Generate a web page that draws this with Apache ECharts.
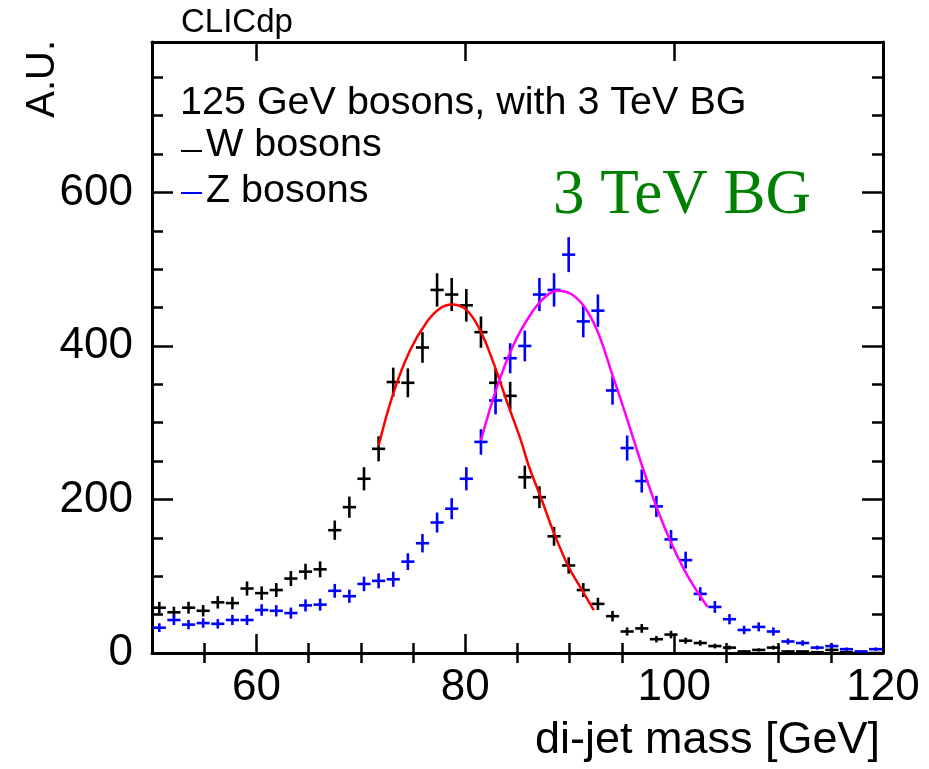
<!DOCTYPE html>
<html>
<head>
<meta charset="utf-8">
<script src="https://cdn.jsdelivr.net/npm/echarts@6/dist/echarts.min.js"></script>
<style>
html,body{margin:0;padding:0;background:#fff;}
#chart{width:929px;height:769px;}
</style>
</head>
<body>
<div id="chart"></div>
<script>
// ---- data ----
const binCenters = [50.7,52.1,53.5,54.9,56.3,57.7,59.1,60.5,61.9,63.3,64.7,66.1,67.5,68.9,70.3,71.7,73.1,74.5,75.9,77.3,78.7,80.1,81.5,82.9,84.3,85.7,87.1,88.5,89.9,91.3,92.7,94.1,95.5,96.9,98.3,99.7,101.1,102.5,103.9,105.3,106.7,108.1,109.5,110.9,112.3,113.7,115.1,116.5,117.9,119.3];
const wCounts = [59,53,59,55,66,65,84,78,82,97,106,109,160,190,227,266,353,352,398,473,467,453,418,352,335,229,203,152,114,82,64,48,28,32,18,24,16,13,9,7,2,4,7,2,2,1,4,1,0,0];
const wErrors = [7.7,7.3,7.7,7.4,8.1,8.1,9.2,8.8,9.1,9.8,10.3,10.4,12.6,13.8,15.1,16.3,18.8,18.8,19.9,21.7,21.6,21.3,20.4,18.8,18.3,15.1,14.2,12.3,10.7,9.1,8.0,6.9,5.3,5.7,4.2,4.9,4.0,3.6,3.0,2.6,1.4,2.0,2.6,1.4,1.4,1.0,2.0,1.0,0,0];
const zCounts = [33,43,37,39,38,43,43,56,55,52,62,63,81,74,90,94,96,119,143,170,188,227,275,329,384,400,467,473,519,432,446,342,267,224,191,148,121,77,60,44,30,34,28,15,13,7,9,5,2,5];
const zErrors = [5.7,6.6,6.1,6.2,6.2,6.6,6.6,7.5,7.4,7.2,7.9,7.9,9.0,8.6,9.5,9.7,9.8,10.9,12.0,13.0,13.7,15.1,16.6,18.1,19.6,20.0,21.6,21.7,22.8,20.8,21.1,18.5,16.3,15.0,13.8,12.2,11.0,8.8,7.7,6.6,5.5,5.8,5.3,3.9,3.6,2.6,3.0,2.2,1.4,2.2];
const wFitX = [71.7,73.1,74.7,76.3,77.6,78.7,80.1,81.4,82.7,84.0,85.3,86.1,87.2,88.5,89.9,91.0,92.3];
const wFitY = [270,338,394,431,449,454,447,421,378,327,278,243,204,156,112,86,56];
const zFitX = [81.5,83.0,84.6,86.2,87.5,88.8,90.1,91.4,92.7,94.0,95.4,96.9,98.4,99.8,101.3,103.2];
const zFitY = [277,345,401,440,462,472,468,451,418,366,309,245,187,141,100,60];
const xTickLabels = [60,80,100,120];
const xMinorTicks = [55,65,70,75,85,90,95,105,110,115];
const yTickLabels = [0,200,400,600];
const yMinorTicks = [50,100,150,250,300,350,450,500,550,650,700,750];
const legendTitle = '125 GeV bosons, with 3 TeV BG';
const seriesNames = ['W bosons','Z bosons'];

// ---- style ----
const FONT = '"Liberation Sans", Arial, Helvetica, sans-serif';
const HALF_BIN = 0.63;
const CROSS_W = 2.6;

const wData = binCenters.map((x,i)=>[x,wCounts[i],wErrors[i]]);
const zData = binCenters.map((x,i)=>[x,zCounts[i],zErrors[i]]);
const wFit = wFitX.map((x,i)=>[x,wFitY[i]]);
const zFit = zFitX.map((x,i)=>[x,zFitY[i]]);

function crossRenderer(color){
  return function(params, api){
    const x = api.value(0), y = api.value(1), e = api.value(2);
    const top = api.coord([x, y + e]);
    const bot = api.coord([x, Math.max(y - e, 0)]);
    const l = api.coord([x - HALF_BIN, y]);
    const r = api.coord([x + HALF_BIN, y]);
    const children = [
      {type:'line', shape:{x1:l[0],y1:l[1],x2:r[0],y2:r[1]}, style:{stroke:color,lineWidth:CROSS_W}}
    ];
    if (e > 0) children.push({type:'line', shape:{x1:top[0],y1:top[1],x2:bot[0],y2:bot[1]}, style:{stroke:color,lineWidth:CROSS_W}});
    return {type:'group', children};
  };
}

const XMIN = 50, XMAX = 120, YMIN = 0, YMAX = 796;
function xAx(opts){
  return Object.assign({type:'value', min:XMIN, max:XMAX, gridIndex:0,
    splitLine:{show:false}, axisLine:{show:false}, axisLabel:{show:false},
    axisTick:{show:false}}, opts);
}
function yAx(opts){
  return Object.assign({type:'value', min:YMIN, max:YMAX, gridIndex:0,
    splitLine:{show:false}, axisLine:{show:false}, axisLabel:{show:false},
    axisTick:{show:false}}, opts);
}

const chart = echarts.init(document.getElementById('chart'), null, {renderer:'canvas'});
chart.setOption({
  animation:false,
  backgroundColor:'#fff',
  grid:{left:152, right:46, top:42, bottom:116, containLabel:false, outerBoundsMode:'none'},
  xAxis:[
    xAx({position:'bottom',
      axisLine:{show:true, onZero:false, lineStyle:{color:'#000', width:3}},
      axisTick:{show:true, inside:true, length:19, lineStyle:{color:'#000', width:2.5}, customValues:xTickLabels},
      axisLabel:{show:true, customValues:xTickLabels, color:'#000', fontSize:44, fontFamily:FONT, margin:13}}),
    xAx({position:'bottom',
      axisTick:{show:true, inside:true, length:10, lineStyle:{color:'#000', width:2.5}, customValues:xMinorTicks}}),
    xAx({position:'top',
      axisLine:{show:true, onZero:false, lineStyle:{color:'#000', width:3}},
      axisTick:{show:true, inside:true, length:19, lineStyle:{color:'#000', width:2.5}, customValues:xTickLabels}}),
    xAx({position:'top',
      axisTick:{show:true, inside:true, length:10, lineStyle:{color:'#000', width:2.5}, customValues:xMinorTicks}})
  ],
  yAxis:[
    yAx({position:'left',
      axisLine:{show:true, onZero:false, lineStyle:{color:'#000', width:3}},
      axisTick:{show:true, inside:true, length:21, lineStyle:{color:'#000', width:2.5}, customValues:yTickLabels},
      axisLabel:{show:true, customValues:yTickLabels, color:'#000', fontSize:44, fontFamily:FONT, margin:19}}),
    yAx({position:'left',
      axisTick:{show:true, inside:true, length:11, lineStyle:{color:'#000', width:2.5}, customValues:yMinorTicks}}),
    yAx({position:'right',
      axisLine:{show:true, onZero:false, lineStyle:{color:'#000', width:3}},
      axisTick:{show:true, inside:true, length:21, lineStyle:{color:'#000', width:2.5}, customValues:yTickLabels}}),
    yAx({position:'right',
      axisTick:{show:true, inside:true, length:11, lineStyle:{color:'#000', width:2.5}, customValues:yMinorTicks}})
  ],
  series:[
    {type:'custom', name:seriesNames[0], xAxisIndex:0, yAxisIndex:0, data:wData, renderItem:crossRenderer('#000000'), clip:true, z:3},
    {type:'custom', name:seriesNames[1], xAxisIndex:0, yAxisIndex:0, data:zData, renderItem:crossRenderer('#0000ff'), clip:true, z:3},
    {type:'line', xAxisIndex:0, yAxisIndex:0, data:wFit, smooth:0.4, showSymbol:false, lineStyle:{color:'#ff0000', width:2.5}, z:4},
    {type:'line', xAxisIndex:0, yAxisIndex:0, data:zFit, smooth:0.4, showSymbol:false, lineStyle:{color:'#ff00ff', width:2.5}, z:4}
  ],
  graphic:[
    {type:'text', x:181, y:23, style:{text:'CLICdp', font:'33px '+FONT, fill:'#000', align:'left', verticalAlign:'middle'}},
    {type:'text', x:43, y:40, rotation:Math.PI/2, style:{text:'A.U.', font:'40px '+FONT, fill:'#000', align:'right', verticalAlign:'middle'}},
    {type:'text', x:880, y:741, style:{text:'di-jet mass [GeV]', font:'45px '+FONT, fill:'#000', align:'right', verticalAlign:'middle'}},
    {type:'text', x:180, y:103, style:{text:legendTitle, font:'39.5px '+FONT, fill:'#000', align:'left', verticalAlign:'middle'}},
    {type:'line', shape:{x1:181, y1:151, x2:202, y2:151}, style:{stroke:'#000', lineWidth:2}},
    {type:'text', x:206, y:145, style:{text:seriesNames[0], font:'39.5px '+FONT, fill:'#000', align:'left', verticalAlign:'middle'}},
    {type:'line', shape:{x1:181, y1:193, x2:202, y2:193}, style:{stroke:'#0000ff', lineWidth:2}},
    {type:'text', x:206, y:191, style:{text:seriesNames[1], font:'39.5px '+FONT, fill:'#000', align:'left', verticalAlign:'middle'}},
    {type:'text', x:553, y:196, style:{text:'3 TeV BG', font:'63px "Liberation Serif", "Times New Roman", serif', fill:'#008000', align:'left', verticalAlign:'middle'}}
  ]
});
</script>
</body>
</html>
